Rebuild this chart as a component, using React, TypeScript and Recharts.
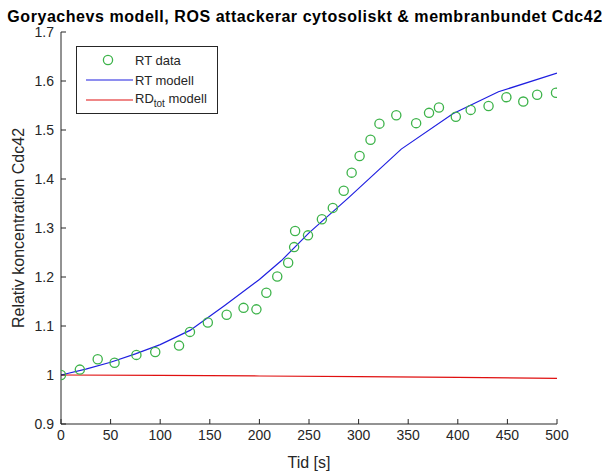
import React from 'react';
import { ComposedChart, Line, Scatter, XAxis, YAxis, Legend } from 'recharts';

// RT data (measured)
const dataTimes = [0, 19, 37, 54, 76, 95, 119, 130, 148, 167, 184, 197, 207, 218, 229, 235, 236, 249, 263, 274, 285, 293, 301, 312, 321, 338, 358, 371, 381, 398, 413, 431, 449, 466, 480, 499];
const dataValues = [1.0, 1.011, 1.032, 1.025, 1.041, 1.047, 1.06, 1.088, 1.107, 1.123, 1.137, 1.134, 1.168, 1.201, 1.229, 1.261, 1.294, 1.285, 1.318, 1.341, 1.376, 1.413, 1.447, 1.48, 1.513, 1.53, 1.514, 1.535, 1.546, 1.527, 1.541, 1.549, 1.567, 1.558, 1.572, 1.576];

// RT modell
const modelTimes = [0, 25, 50, 75, 100, 130, 165, 200, 222, 250, 290, 343, 395, 441, 500];
const modelValues = [1.0, 1.012, 1.026, 1.043, 1.062, 1.091, 1.142, 1.195, 1.233, 1.29, 1.362, 1.461, 1.533, 1.578, 1.616];

// RDtot modell
const rdTimes = [0, 100, 200, 300, 400, 500];
const rdValues = [1.0, 0.9993, 0.998, 0.9965, 0.995, 0.993];

const xTicks = [0, 50, 100, 150, 200, 250, 300, 350, 400, 450, 500];
const yTicks = [0.9, 1.0, 1.1, 1.2, 1.3, 1.4, 1.5, 1.6, 1.7];

const rtData = dataTimes.map((t, i) => ({ t, v: dataValues[i] }));
const rtModel = modelTimes.map((t, i) => ({ t, v: modelValues[i] }));
const rdModel = rdTimes.map((t, i) => ({ t, v: rdValues[i] }));

const AXIS = '#262626';
const GREEN = '#3db34a';
const BLUE = '#1f1fe0';
const RED = '#e01010';
const FONT = '"Liberation Sans", Arial, sans-serif';

const fmtY = (v: number) => String(+v.toFixed(1));
const noTick = () => <g />;

const Circle = (props: any) => {
    const { cx, cy } = props;
    return <circle cx={cx} cy={cy} r={4.6} fill="none" stroke={GREEN} strokeWidth={1.3} />;
};

const LegendBox = () => {
    const row = { display: 'flex', alignItems: 'center', height: 20 } as const;
    return (
        <div style={{ border: `1px solid ${AXIS}`, background: '#fff', padding: '3px 0', fontFamily: FONT, fontSize: 13, color: AXIS, width: 140 }}>
            <div style={row}>
                <svg width={58} height={20}>
                    <circle cx={31} cy={10} r={4.6} fill="none" stroke={GREEN} strokeWidth={1.3} />
                </svg>
                <span>RT data</span>
            </div>
            <div style={row}>
                <svg width={58} height={20}>
                    <line x1={9} y1={10} x2={56} y2={10} stroke={BLUE} strokeWidth={1.2} />
                </svg>
                <span>RT modell</span>
            </div>
            <div style={row}>
                <svg width={58} height={20}>
                    <line x1={9} y1={10} x2={56} y2={10} stroke={RED} strokeWidth={1.2} />
                </svg>
                <span>
                    RD<sub style={{ fontSize: 10 }}>tot</sub> modell
                </span>
            </div>
        </div>
    );
};

export default function App() {
    const tickStyle = { fill: AXIS, fontSize: 14, fontFamily: FONT };
    return (
        <div style={{ position: 'absolute', left: 0, top: 0, width: 610, height: 475, background: '#fff' }}>
            <div
                style={{
                    position: 'absolute',
                    left: 0,
                    top: 8,
                    width: 610,
                    textAlign: 'center',
                    fontFamily: FONT,
                    fontWeight: 'bold',
                    fontSize: 16,
                    letterSpacing: 0.55,
                    color: '#000',
                    whiteSpace: 'nowrap',
                }}
            >
                Goryachevs modell, ROS attackerar cytosoliskt &amp; membranbundet Cdc42
            </div>
            <ComposedChart width={610} height={475} margin={{ top: 32, right: 53, bottom: 0, left: 0 }}>
                <XAxis
                    dataKey="t"
                    type="number"
                    domain={[0, 500]}
                    ticks={xTicks}
                    height={51}
                    tickSize={-5}
                    tickMargin={11}
                    tick={tickStyle}
                    stroke={AXIS}
                    allowDataOverflow
                    label={{ value: 'Tid [s]', position: 'center', dy: 13, fill: AXIS, fontSize: 16, fontFamily: FONT }}
                />
                <XAxis
                    xAxisId="top"
                    orientation="top"
                    type="number"
                    domain={[0, 500]}
                    ticks={xTicks}
                    height={0}
                    tickSize={-5}
                    tick={noTick}
                    stroke={AXIS}
                    allowDataOverflow
                />
                <YAxis
                    type="number"
                    domain={[0.9, 1.7]}
                    ticks={yTicks}
                    width={61}
                    tickSize={-5}
                    tickMargin={12}
                    tickFormatter={fmtY}
                    tick={tickStyle}
                    stroke={AXIS}
                    allowDataOverflow
                    label={{ value: 'Relativ koncentration Cdc42', angle: -90, position: 'center', dx: -12, fill: AXIS, fontSize: 16, fontFamily: FONT }}
                />
                <YAxis
                    yAxisId="right"
                    orientation="right"
                    type="number"
                    domain={[0.9, 1.7]}
                    ticks={yTicks}
                    width={0}
                    tickSize={-5}
                    tick={noTick}
                    stroke={AXIS}
                    allowDataOverflow
                />
                <Legend
                    layout="vertical"
                    align="center"
                    verticalAlign="middle"
                    wrapperStyle={{ left: 76, top: 46, width: 142, height: 69 }}
                    content={() => <LegendBox />}
                />
                <Line data={rdModel} dataKey="v" type="linear" stroke={RED} strokeWidth={1.2} dot={false} isAnimationActive={false} />
                <Line data={rtModel} dataKey="v" type="linear" stroke={BLUE} strokeWidth={1.2} dot={false} isAnimationActive={false} />
                <Scatter data={rtData} dataKey="v" shape={<Circle />} isAnimationActive={false} />
            </ComposedChart>
        </div>
    );
}
